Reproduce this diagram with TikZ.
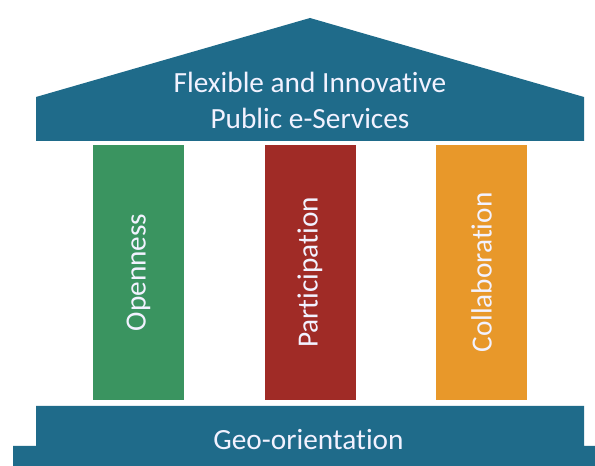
\documentclass[tikz,border=0pt]{standalone}
\usepackage{fontspec}
\setmainfont{Carlito}[Ligatures=CommonOff]
\usepackage{xcolor}
\usepackage{tikz}
\definecolor{temple}{HTML}{1F6B8A}
\definecolor{openc}{HTML}{3A9460}
\definecolor{partc}{HTML}{A02B26}
\definecolor{collc}{HTML}{E8982A}
\tikzset{
  pillar/.style={rotate=90, minimum width=255pt, minimum height=91pt, inner sep=0pt, text=white!95!blue},
  label/.style={text=white!95!blue, inner sep=0pt}
}

\begin{document}
\begin{tikzpicture}[x=1pt, y=1pt, font=\fontsize{29.3}{36}\selectfont]
	\useasboundingbox (0,0) rectangle (595,466);
	% roof
	\fill[temple] (36,325) -- (36,369) -- (310,448) -- (584,369) -- (584,325) -- cycle;
	\node[label, align=center] (roof) at (310,366) {Flexible and Innovative\\Public e-Services};
	% pillars
	\node[pillar, fill=openc] (open) at (138.5,193.5) {Openness};
	\node[pillar, fill=partc] (part) at (310,193.5) {Participation};
	\node[pillar, fill=collc] (coll) at (481.5,193.5) {Collaboration};
	% base
	\fill[temple] (13,0) -- (13,20) -- (36,20) -- (36,60) -- (584,60) -- (584,20) -- (595,20) -- (595,0) -- cycle;
	\node[label, anchor=base] (geo) at (308.5,16) {Geo-orientation};
\end{tikzpicture}
\end{document}
